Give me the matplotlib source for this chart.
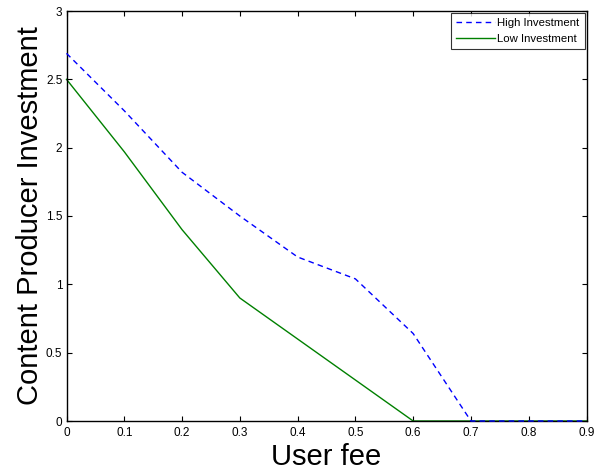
import matplotlib
matplotlib.use("Agg")
import matplotlib.pyplot as plt

plt.rcParams['font.family'] = ['Liberation Sans', 'DejaVu Sans']

user_fee = [0.0, 0.1, 0.2, 0.3, 0.4, 0.5, 0.6, 0.7, 0.8, 0.9]
high_investment = [2.69, 2.27, 1.82, 1.50, 1.20, 1.04, 0.64, 0.0, 0.0, 0.0]
low_investment = [2.50, 1.97, 1.40, 0.90, 0.60, 0.30, 0.0, 0.0, 0.0, 0.0]
xticks = [0, 0.1, 0.2, 0.3, 0.4, 0.5, 0.6, 0.7, 0.8, 0.9]
xticklabels = ['0', '0.1', '0.2', '0.3', '0.4', '0.5', '0.6', '0.7', '0.8', '0.9']
yticks = [0, 0.5, 1, 1.5, 2, 2.5, 3]
yticklabels = ['0', '0.5', '1', '1.5', '2', '2.5', '3']

fig = plt.figure(figsize=(5.97, 4.71), dpi=100)
ax = fig.add_axes([66.5/597, 1 - 421/471, 520/597, 410/471])

ax.plot(user_fee, high_investment, color='#0000ff', linestyle=(0, (4, 3)),
        linewidth=1.0, label='High Investment', clip_on=False, zorder=3)
ax.plot(user_fee, low_investment, color='#008000', linestyle='-',
        linewidth=1.0, label='Low Investment', clip_on=False, zorder=2)

ax.set_xlim(0, 0.9)
ax.set_ylim(0, 3)
ax.set_xticks(xticks)
ax.set_xticklabels(xticklabels)
ax.set_yticks(yticks)
ax.set_yticklabels(yticklabels)
ax.tick_params(direction='in', top=True, right=True, labelsize=8.5,
               length=3.6, width=0.8)
ax.tick_params(axis='x', pad=4)
ax.tick_params(axis='y', pad=3)
for s in ax.spines.values():
    s.set_linewidth(1.0)

ax.set_xlabel('User fee', fontsize=21, labelpad=3)
ax.set_ylabel('Content Producer Investment', fontsize=21, labelpad=1)

leg = ax.legend(loc='upper right', fontsize=8.2, frameon=True, fancybox=False,
                handlelength=3.4, borderpad=0.45, labelspacing=0.55,
                handletextpad=0.25, borderaxespad=0.15)
leg.get_frame().set_edgecolor('black')
leg.get_frame().set_linewidth(0.8)

fig.savefig('out.png', dpi=100)
